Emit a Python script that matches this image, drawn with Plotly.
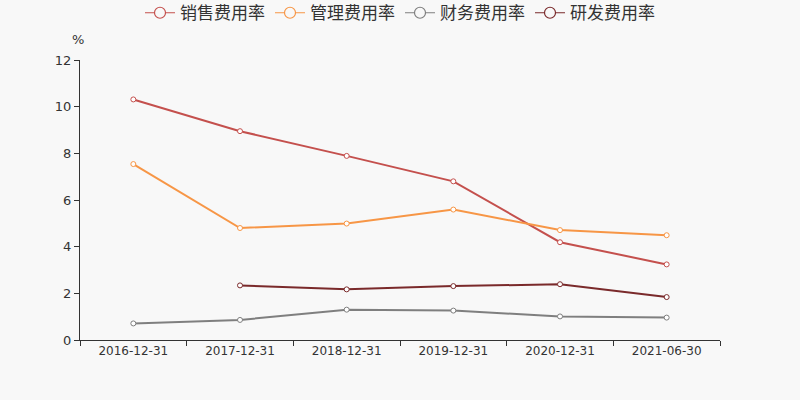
import plotly.graph_objects as go

categories = ["2016-12-31", "2017-12-31", "2018-12-31", "2019-12-31", "2020-12-31", "2021-06-30"]
sales_rate = [10.31, 8.95, 7.89, 6.80, 4.19, 3.24]
admin_rate = [7.54, 4.80, 4.99, 5.59, 4.71, 4.49]
finance_rate = [0.71, 0.86, 1.30, 1.26, 1.01, 0.96]
rd_rate = [None, 2.34, 2.17, 2.31, 2.39, 1.84]
series_names = ["销售费用率", "管理费用率", "财务费用率", "研发费用率"]
colors = ["#c4504d", "#f79646", "#7f7f7f", "#7a2a2b"]

fig = go.Figure()
for name, vals, c in zip(series_names, [sales_rate, admin_rate, finance_rate, rd_rate], colors):
    fig.add_trace(go.Scatter(
        x=categories, y=vals, name=name, mode="lines+markers", showlegend=False,
        line=dict(color=c, width=2),
        marker=dict(symbol="circle", size=5, color="white", line=dict(color=c, width=1)),
        connectgaps=False, legendgroup=name,
    ))
# legend entries (larger open circle markers, as in the reference legend)
for name, c in zip(series_names, colors):
    fig.add_trace(go.Scatter(
        x=[None], y=[None], name=name, mode="lines+markers", showlegend=True,
        line=dict(color=c, width=1.2),
        marker=dict(symbol="circle", size=11, color="#f8f8f8", line=dict(color=c, width=1.2)),
        legendgroup=name,
    ))

fig.update_layout(
    width=800, height=400,
    margin=dict(l=80, r=80, t=60, b=60, autoexpand=False),
    paper_bgcolor="#f8f8f8", plot_bgcolor="#f8f8f8",
    font=dict(family="DejaVu Sans, Noto Sans CJK SC", size=12, color="#333333"),
    showlegend=True,
    legend=dict(orientation="h", x=0.5, xanchor="center", y=0.967, yref="container", yanchor="middle",
                font=dict(family="Noto Sans CJK SC, DejaVu Sans", size=17, color="#333333"),
                bgcolor="rgba(0,0,0,0)", itemwidth=30, tracegroupgap=0),
)
fig.add_annotation(text="%", xref="x domain", yref="y domain", x=-0.003, y=1.075,
                   xanchor="center", yanchor="middle", showarrow=False,
                   font=dict(size=13, color="#333333"))

fig.update_xaxes(
    type="category", range=[-0.5, 5.5], tickson="boundaries",
    showgrid=False, zeroline=False, showline=True, linecolor="#333333", linewidth=1,
    ticks="outside", ticklen=5, tickcolor="#333333", tickfont=dict(size=12, color="#333333"),
)
fig.update_yaxes(
    range=[0, 12], dtick=2, tick0=0,
    showgrid=False, zeroline=False, showline=True, linecolor="#333333", linewidth=1,
    ticks="outside", ticklen=5, tickcolor="#333333", tickfont=dict(size=13, color="#333333"),
)

fig.write_html("out.html")
